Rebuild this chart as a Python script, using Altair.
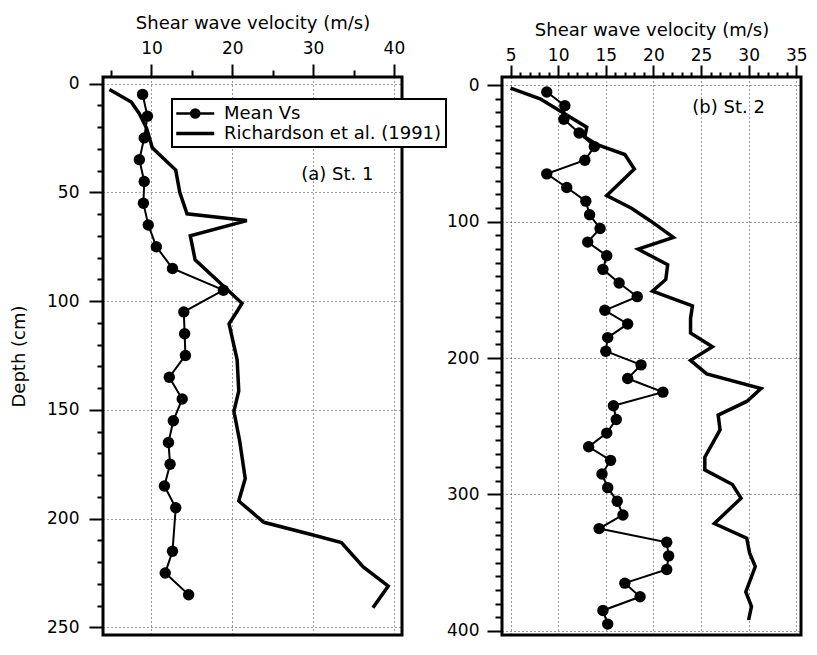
import altair as alt
import pandas as pd

FONT = "DejaVu Sans"

# ---------------- Station 1 ----------------
st1_mean_depth = [5, 15, 25, 35, 45, 55, 65, 75, 85, 95, 105, 115, 125, 135, 145,
                  155, 165, 175, 185, 195, 215, 225, 235]
st1_mean_vs = [8.9, 9.5, 9.1, 8.5, 9.1, 9.0, 9.6, 10.6, 12.6, 18.9, 14.0, 14.1, 14.2,
               12.2, 13.8, 12.7, 12.1, 12.3, 11.6, 13.0, 12.6, 11.7, 14.6]
st1_rich_depth = [2.7, 8.5, 13.9, 20.6, 29.5, 39.8, 50, 59.9, 63, 70, 81, 101, 104.7,
                  110.5, 127, 141.3, 150.7, 164, 181.6, 191.9, 201.7, 207.5, 211,
                  222.2, 231, 241]
st1_rich_vs = [4.8, 7.5, 8.5, 9.4, 10.1, 13.0, 13.5, 14.4, 21.8, 14.8, 15.4, 21.2, 20.6,
               19.6, 20.6, 20.8, 20.2, 20.9, 21.6, 20.8, 23.9, 30.0, 33.5, 36.2, 39.3,
               37.4]

# ---------------- Station 2 ----------------
st2_mean_depth = [5, 15, 25, 35, 45, 55, 65, 75, 85, 95, 105, 115, 125, 135, 145, 155,
                  165, 175, 185, 195, 205, 215, 225, 235, 245, 255, 265, 275, 285, 295,
                  305, 315, 325, 335, 345, 355, 365, 375, 385, 395]
st2_mean_vs = [8.8, 10.7, 10.6, 12.2, 13.8, 12.8, 8.8, 10.9, 12.9, 13.3, 14.4, 13.1,
               15.1, 14.7, 16.4, 18.3, 14.9, 17.3, 15.2, 15.0, 18.7, 17.3, 21.0, 15.8,
               16.1, 15.1, 13.2, 15.5, 14.6, 15.2, 16.2, 16.8, 14.3, 21.4, 21.6, 21.4,
               17.0, 18.6, 14.7, 15.2]
st2_rich_depth = [2.1, 10.0, 30.8, 38, 43.6, 50.8, 61.5, 80.9, 90.2, 99.5, 111.6, 120.2,
                  131.6, 142.4, 151, 161.7, 171, 181.7, 191.7, 201.7, 211.6, 222.4,
                  231.8, 241.8, 252.6, 272.6, 282, 292.7, 302.7, 321.3, 332, 342.8,
                  352.8, 371.4, 382, 392]
st2_rich_vs = [5.0, 8.1, 13.0, 12.8, 14.1, 17.0, 18.0, 15.1, 17.7, 19.7, 22.1, 18.4,
               21.5, 21.3, 19.9, 24.1, 23.9, 23.9, 26.2, 23.9, 25.6, 31.3, 29.8, 26.8,
               27.0, 25.4, 25.4, 28.3, 29.2, 26.4, 29.8, 30.1, 30.7, 29.7, 30.3, 30.0]

series_names = ["Mean Vs", "Richardson et al. (1991)"]

# axis tick values (major + minor)
st1_x_ticks = [5, 10, 15, 20, 25, 30, 35, 40]
st1_y_ticks = list(range(0, 251, 10))
st2_x_ticks = list(range(5, 36, 1))
st2_y_ticks = list(range(0, 401, 10))

# panel labels
st1_label = pd.DataFrame({"v": [33.0], "d": [42.0], "t": ["(a) St. 1"]})
st2_label = pd.DataFrame({"v": [27.9], "d": [17.0], "t": ["(b) St. 2"]})


# legend glyphs (line with filled dot / thick line), in symbol units
def _circle(cx, r):
    return (f"M{cx + r:.3f},0A{r},{r},0,1,1,{cx - r:.3f},0"
            f"A{r},{r},0,1,1,{cx + r:.3f},0")


X0, X1, XC = -1.14, 3.08, 0.97
MEAN_PATH = f"M{X0},0L{X1},0" + "".join(_circle(XC, r) for r in (0.45, 0.3, 0.15, 0.03))
RICH_PATH = f"M{X0},-0.06L{X1},-0.06M{X0},0.06L{X1},0.06"


def frame(depth, vs, name):
    return pd.DataFrame({"d": depth, "v": vs, "series": name})


def tick_axis(orient, values, mod, major, minor, pad, title, **kw):
    test = f"datum.value % {mod} === 0"
    return alt.Axis(
        orient=orient, values=values, title=title,
        labelExpr=f"{test} ? datum.label : ''",
        tickSize={"condition": {"test": test, "value": major}, "value": minor},
        gridOpacity={"condition": {"test": test, "value": 0.9}, "value": 0},
        labelPadding=pad, labelOverlap=False, labelFlush=False, labelBound=False,
        **kw,
    )


def panel(mean_df, rich_df, label_df, xdom, ydom, xaxis, yaxis, w, h, legend):
    x = alt.X("v:Q", scale=alt.Scale(domain=xdom, nice=False, zero=False), axis=xaxis)
    y = alt.Y("d:Q", scale=alt.Scale(domain=ydom, nice=False, zero=False, reverse=True),
              axis=yaxis)
    rich = alt.Chart(rich_df).mark_line(color="black", strokeWidth=3.5).encode(
        x=x, y=y, order="d:Q")
    mline = alt.Chart(mean_df).mark_line(color="black", strokeWidth=2).encode(
        x=x, y=y, order="d:Q")
    mpts = alt.Chart(mean_df).mark_circle(size=130, color="black", opacity=1).encode(
        x=x, y=y)
    txt = alt.Chart(label_df).mark_text(font=FONT, fontSize=18, color="black").encode(
        x=x, y=y, text="t:N")
    layers = [rich, mline, mpts, txt]
    if legend:
        leg_df = pd.concat([mean_df.head(1), rich_df.head(1)])
        leg = alt.Chart(leg_df).mark_point(
            filled=False, color="black", strokeWidth=2.5, opacity=0
        ).encode(
            x=x, y=y,
            shape=alt.Shape("series:N",
                            scale=alt.Scale(domain=series_names, range=[MEAN_PATH, RICH_PATH]),
                            legend=alt.Legend(
                                title=None, orient="none", legendX=69, legendY=22,
                                symbolSize=324, symbolStrokeWidth=2.5,
                                symbolStrokeColor="black",
                                symbolOpacity=1, labelFont=FONT, labelFontSize=18,
                                labelColor="black", labelOffset=27, labelLimit=400,
                                padding=4, rowPadding=0,
                                strokeColor="black", fillColor="white",
                            )),
        )
        layers.append(leg)
    return alt.layer(*layers).properties(width=w, height=h)


left = panel(
    frame(st1_mean_depth, st1_mean_vs, series_names[0]),
    frame(st1_rich_depth, st1_rich_vs, series_names[1]),
    st1_label, [4, 41], [-3, 253.5],
    tick_axis("top", st1_x_ticks, 10, 13, 7, 7, "Shear wave velocity (m/s)",
              minExtent=37, maxExtent=37, titlePadding=8),
    tick_axis("left", st1_y_ticks, 50, 14, 6, 10, "Depth (cm)",
              minExtent=55, maxExtent=55, titlePadding=20),
    299, 558, True,
)

right = panel(
    frame(st2_mean_depth, st2_mean_vs, series_names[0]),
    frame(st2_rich_depth, st2_rich_vs, series_names[1]),
    st2_label, [4.1, 35.5], [-6, 403],
    tick_axis("top", st2_x_ticks, 5, 12, 5, 1, "Shear wave velocity (m/s)",
              minExtent=31, maxExtent=31, titlePadding=7),
    tick_axis("left", st2_y_ticks, 100, 15, 7, 8, None),
    299, 558, False,
)

chart = alt.hconcat(left, right, spacing=100, bounds="flush").properties(
    padding={"left": 0, "top": 4, "right": 0, "bottom": 0}
).configure_axis(
    labelFont=FONT, titleFont=FONT, labelFontSize=17, titleFontSize=18,
    titleFontWeight="normal", labelColor="black", titleColor="black",
    tickColor="black", tickWidth=2, domain=False,
    gridColor="#222222", gridDash=[1, 3], gridWidth=1,
).configure_view(stroke="black", strokeWidth=3)

try:
    trial = chart.configure_legend(strokeWidth=2)
    trial.to_dict()
    chart = trial
except Exception:
    pass

chart.save("out.html", embed_options={"renderer": "svg", "actions": False})
